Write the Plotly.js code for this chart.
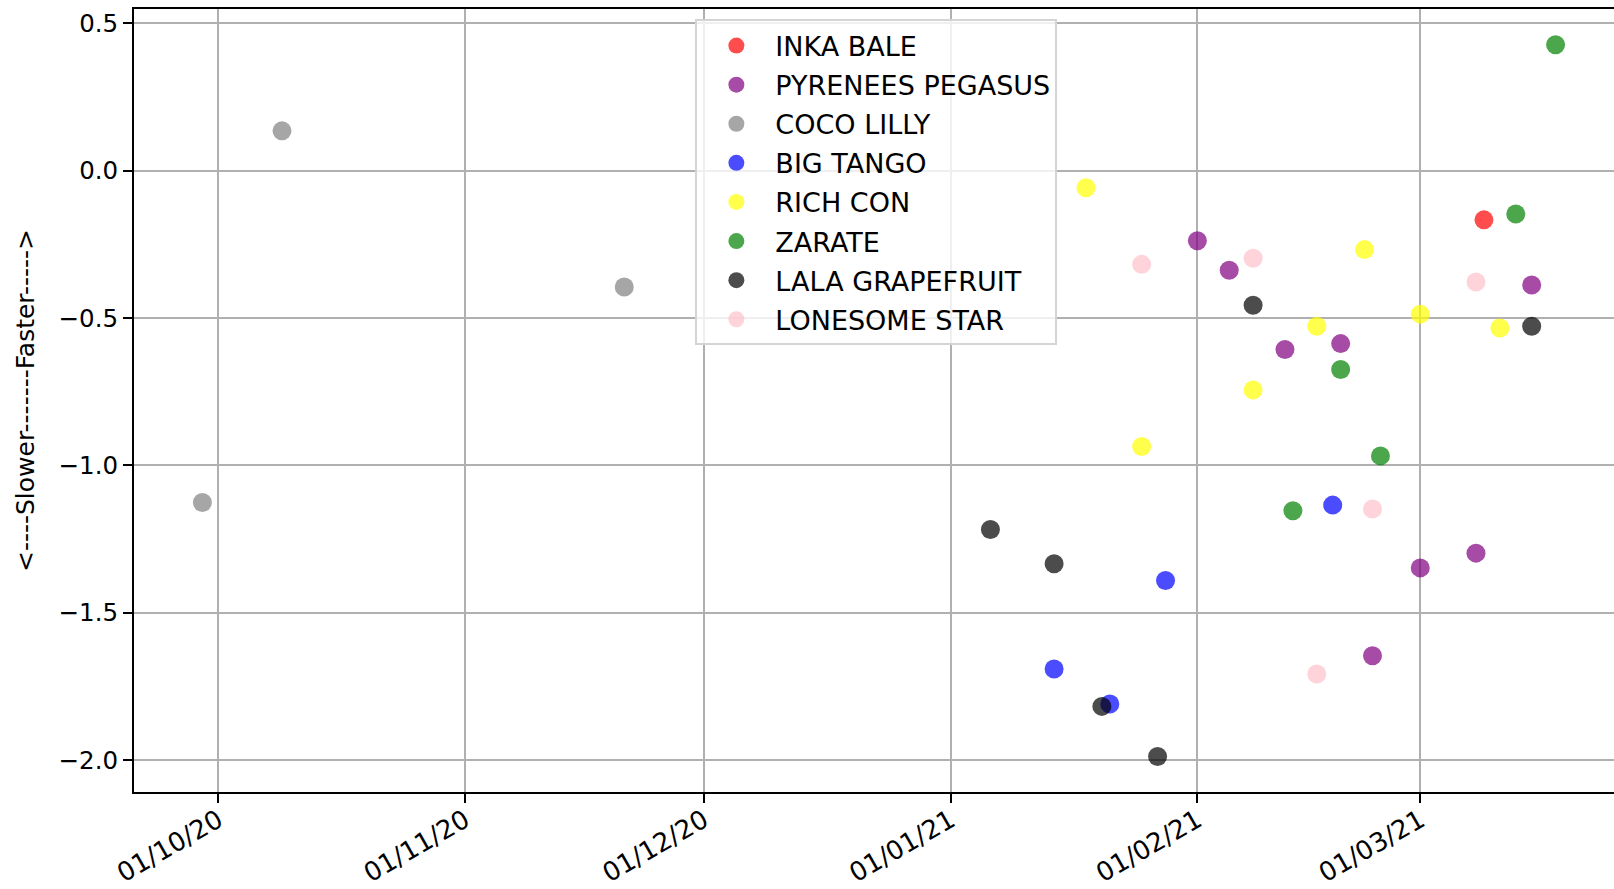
<!DOCTYPE html>
<html>
<head>
<meta charset="utf-8">
<script src="https://cdn.plot.ly/plotly-3.0.1.min.js"></script>
<style>
  html, body { margin: 0; padding: 0; background: #ffffff; }
  #chart { width: 1614px; height: 889px; }
</style>
</head>
<body>
<div id="chart"></div>
<script>
// ---- Data ----
const seriesNames = ["INKA BALE", "PYRENEES PEGASUS", "COCO LILLY", "BIG TANGO",
                     "RICH CON", "ZARATE", "LALA GRAPEFRUIT", "LONESOME STAR"];
const seriesColors = ["red", "purple", "gray", "blue", "yellow", "green", "black", "pink"];

const inkaDates = ["2021-03-09"];
const inkaValues = [-0.167];

const pyreneesDates = ["2021-02-01", "2021-02-05", "2021-02-12", "2021-02-19",
                       "2021-02-23", "2021-03-01", "2021-03-08", "2021-03-15"];
const pyreneesValues = [-0.238, -0.338, -0.607, -0.587, -1.646, -1.348, -1.298, -0.388];

const cocoDates = ["2020-09-29", "2020-10-09", "2020-11-21"];
const cocoValues = [-1.126, 0.135, -0.395];

const tangoDates = ["2021-01-14", "2021-01-21", "2021-01-28", "2021-02-18"];
const tangoValues = [-1.691, -1.810, -1.391, -1.135];

const richDates = ["2021-01-18", "2021-01-25", "2021-02-08", "2021-02-16",
                   "2021-02-22", "2021-03-01", "2021-03-11"];
const richValues = [-0.058, -0.936, -0.744, -0.528, -0.268, -0.487, -0.534];

const zarateDates = ["2021-02-13", "2021-02-19", "2021-02-24", "2021-03-13", "2021-03-18"];
const zarateValues = [-1.154, -0.675, -0.968, -0.147, 0.427];

const lalaDates = ["2021-01-06", "2021-01-14", "2021-01-20", "2021-01-27",
                   "2021-02-08", "2021-03-15"];
const lalaValues = [-1.218, -1.334, -1.818, -1.988, -0.457, -0.528];

const lonesomeDates = ["2021-01-25", "2021-02-08", "2021-02-16", "2021-02-23", "2021-03-08"];
const lonesomeValues = [-0.318, -0.297, -1.708, -1.148, -0.378];

const xTickFormat = "%d/%m/%y";
const yAxisLabel = "<----Slower-------Faster----->";

// ---- Build traces ----
const allDates = [inkaDates, pyreneesDates, cocoDates, tangoDates,
                  richDates, zarateDates, lalaDates, lonesomeDates];
const allValues = [inkaValues, pyreneesValues, cocoValues, tangoValues,
                   richValues, zarateValues, lalaValues, lonesomeValues];

const traces = seriesNames.map((name, i) => ({
  type: "scatter",
  mode: "markers",
  name: name,
  legendgroup: "g" + i,
  x: allDates[i],
  y: allValues[i],
  marker: { color: seriesColors[i], size: 19, opacity: 0.7, line: { width: 0 } },
  hoverinfo: "x+y+name"
}));

const font = "DejaVu Sans, Liberation Sans, sans-serif";

const layout = {
  width: 1614,
  height: 889,
  margin: { l: 134, r: 0, t: 9, b: 97, pad: 0 },
  paper_bgcolor: "#ffffff",
  plot_bgcolor: "#ffffff",
  font: { family: font, size: 24, color: "#000000" },
  showlegend: true,
  legend: {
    x: 0.3793, y: 0.9866, xanchor: "left", yanchor: "top",
    bgcolor: "rgba(255,255,255,0.8)",
    bordercolor: "#d4d4d4",
    borderwidth: 2,
    font: { family: font, size: 27, color: "#000000" },
    traceorder: "grouped",
    tracegroupgap: 1,
    itemwidth: 68
  },
  xaxis: {
    type: "date",
    range: ["2020-09-20 09:48", "2021-03-25 08:10"],
    tick0: "2020-10-01",
    dtick: "M1",
    tickformat: xTickFormat,
    tickangle: -30,
    ticks: "outside",
    ticklen: 9,
    tickwidth: 2,
    tickcolor: "#000000",
    ticklabelshift: 0,
    ticklabelstandoff: -8,
    showgrid: true,
    gridcolor: "#b0b0b0",
    gridwidth: 2,
    zeroline: false,
    showline: true,
    linecolor: "#000000",
    linewidth: 2,
    mirror: true,
    tickfont: { family: font, size: 26, color: "#000000" },
    automargin: false
  },
  yaxis: {
    range: [-2.1085, 0.5485],
    tick0: 0,
    dtick: 0.5,
    tickformat: ".1f",
    ticks: "outside",
    ticklen: 9,
    tickwidth: 2,
    tickcolor: "#000000",
    showgrid: true,
    gridcolor: "#b0b0b0",
    gridwidth: 2,
    zeroline: false,
    showline: true,
    linecolor: "#000000",
    linewidth: 2,
    mirror: false,
    tickfont: { family: font, size: 24.5, color: "#000000" },
    title: { text: yAxisLabel, font: { family: font, size: 25, color: "#000000" }, standoff: 17 },
    automargin: false
  }
};

Plotly.newPlot("chart", traces, layout, { displayModeBar: false, staticPlot: false });
</script>
</body>
</html>
